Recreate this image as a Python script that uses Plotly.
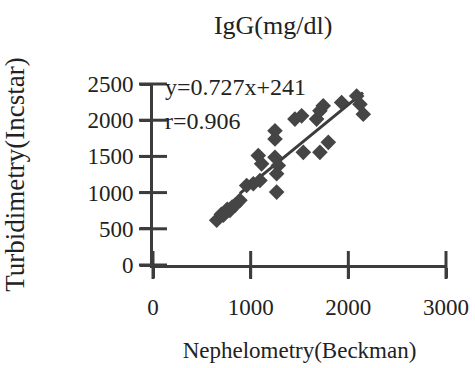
import plotly.graph_objects as go

# Data
neph = [652, 720, 788, 839, 890, 700, 760, 810, 959, 1027, 1095, 1266, 1078, 1112,
        1249, 1283, 1266, 1249, 1249, 1453, 1522, 1539, 1675, 1709, 1743,
        1709, 1795, 1931, 2085, 2119, 2153]
turb = [618, 687, 755, 824, 893, 700, 770, 800, 1099, 1122, 1168, 1007, 1511, 1397,
        1488, 1374, 1260, 1854, 1740, 2015, 2060, 1556, 2015, 2129, 2198,
        1556, 1694, 2244, 2335, 2221, 2083]
trend_x = [890, 2150]
trend_y = [990, 2380]

x_ticks = [0, 1000, 2000, 3000]
y_ticks = [0, 500, 1000, 1500, 2000, 2500]

AX = "#3c3c3c"
FONT = "Liberation Serif"

fig = go.Figure()
fig.add_trace(go.Scatter(x=trend_x, y=trend_y, mode="lines",
                         line=dict(color=AX, width=3), showlegend=False))
fig.add_trace(go.Scatter(x=neph, y=turb, mode="markers",
                         marker=dict(symbol="diamond", size=12, color="#454545",
                                     line=dict(width=0)), showlegend=False))
# crossing tick marks (centred on the axis lines)
fig.add_trace(go.Scatter(x=[0] * len(y_ticks), y=y_ticks, mode="markers",
                         marker=dict(symbol="line-ew-open", size=20, color=AX,
                                     line=dict(color=AX, width=3)),
                         cliponaxis=False, showlegend=False, hoverinfo="skip"))
fig.add_trace(go.Scatter(x=x_ticks, y=[0] * len(x_ticks), mode="markers",
                         marker=dict(symbol="line-ns-open", size=20, color=AX,
                                     line=dict(color=AX, width=3)),
                         cliponaxis=False, showlegend=False, hoverinfo="skip"))

common = dict(showgrid=False, zeroline=False, showline=True, linecolor=AX, linewidth=3,
              tickcolor=AX, tickwidth=3, ticklen=10, ticks="outside", automargin=False)

fig.update_layout(
    width=475, height=368,
    margin=dict(l=153, r=29, t=84, b=103, autoexpand=False),
    paper_bgcolor="white", plot_bgcolor="white",
    font=dict(family=FONT, color="#222", size=23),
    title=dict(text="IgG(mg/dl)", x=0.575, xanchor="center", y=0.932, yanchor="middle",
               font=dict(size=26, family=FONT, color="#222")),
    xaxis=dict(range=[0, 3000], tickvals=x_ticks,
               ticklabelstandoff=9,
               title=dict(text="Nephelometry(Beckman)", standoff=24,
                          font=dict(size=23, family=FONT)),
               **common),
    yaxis=dict(range=[0, 2500], tickvals=y_ticks,
               ticklabelstandoff=2,
               title=dict(text="Turbidimetry(Incstar)", standoff=55,
                          font=dict(size=27, family=FONT)),
               **common),
    annotations=[
        dict(text="y=0.727x+241", xref="paper", yref="paper", x=0.035, y=0.985,
             xanchor="left", yanchor="middle", showarrow=False,
             font=dict(size=24, family=FONT, color="#222")),
        dict(text="r=0.906", xref="paper", yref="paper", x=0.035, y=0.795,
             xanchor="left", yanchor="middle", showarrow=False,
             font=dict(size=24, family=FONT, color="#222")),
    ],
)

fig.write_html("out.html", config={"displayModeBar": False},
               post_script="document.body.style.margin='0';")
